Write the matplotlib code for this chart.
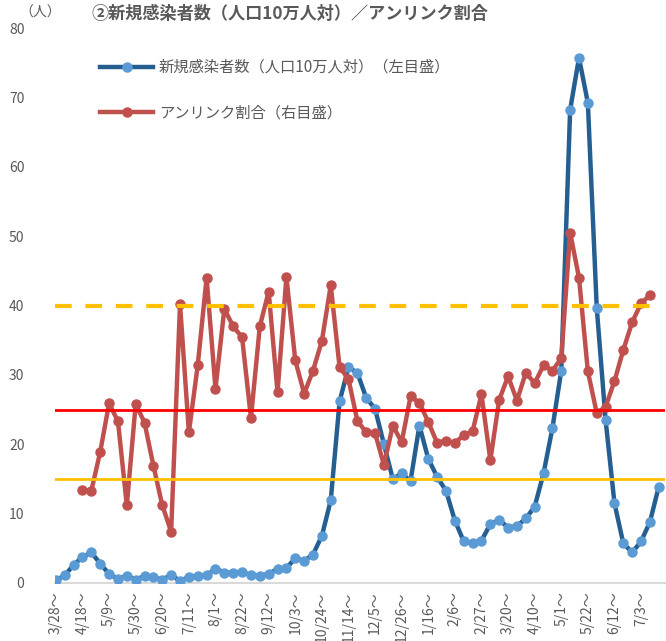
import matplotlib
matplotlib.use('Agg')
import matplotlib.pyplot as plt

plt.rcParams['font.family'] = ['Noto Sans CJK JP', 'DejaVu Sans']

# weekly values, 69 weeks starting 3/28
new_cases = [0.4, 1.1, 2.6, 3.75, 4.4, 2.8, 1.3, 0.6, 1.05, 0.5,
             1.0, 0.8, 0.5, 1.15, 0.3, 0.87, 1.05, 1.1, 2.06, 1.5,
             1.5, 1.6, 1.1, 1.05, 1.3, 2.06, 2.16, 3.56, 3.2, 4.1,
             6.8, 11.9, 26.2, 31.1, 30.3, 26.7, 25.1, 20.0, 15.0, 15.8,
             14.7, 22.7, 17.9, 15.3, 13.3, 9.0, 6.0, 5.8, 6.1, 8.5,
             9.1, 8.0, 8.2, 9.3, 11.0, 15.8, 22.3, 30.6, 68.2, 75.7,
             69.2, 39.7, 23.5, 11.5, 5.7, 4.4, 6.0, 8.8, 13.9]

# unlinked ratio (%), starts at week index 3, ends at index 67
unlinked_start = 3
unlinked = [13.4, 13.3, 18.9, 25.9, 23.3, 11.2, 25.8, 23.1, 16.9, 11.2,
            7.4, 40.2, 21.7, 31.4, 44.0, 28.0, 39.5, 37.0, 35.4, 23.8,
            37.0, 42.0, 27.5, 44.1, 32.1, 27.3, 30.6, 34.9, 42.9, 31.1,
            29.4, 23.4, 21.7, 21.6, 17.0, 22.7, 20.3, 26.9, 26.0, 23.2,
            20.2, 20.5, 20.2, 21.3, 21.9, 27.2, 17.7, 26.4, 29.8, 26.3,
            30.3, 28.8, 31.4, 30.6, 32.4, 50.5, 44.0, 30.5, 24.5, 25.4,
            29.1, 33.6, 37.6, 40.3, 41.5]

tick_labels = ['3/28～', '4/18～', '5/9～', '5/30～', '6/20～', '7/11～', '8/1～',
               '8/22～', '9/12～', '10/3～', '10/24～', '11/14～', '12/5～',
               '12/26～', '1/16～', '2/6～', '2/27～', '3/20～', '4/10～',
               '5/1～', '5/22～', '6/12～', '7/3～']

ref_dashed = 40
ref_red = 25
ref_yellow = 15

x_cases = list(range(len(new_cases)))
x_unlinked = list(range(unlinked_start, unlinked_start + len(unlinked)))

fig = plt.figure(figsize=(6.66, 6.41), dpi=100)
W, H = 666, 641
ax = fig.add_axes([55 / W, 1 - 583 / H, 610 / W, (583 - 28) / H])

ax.plot(x_cases, new_cases, color='#255E91', linewidth=3.2, marker='o',
        markersize=6.5, markerfacecolor='#5B9BD5', markeredgecolor='#5B9BD5',
        label='新規感染者数（人口10万人対）（左目盛）', zorder=3)
ax.plot(x_unlinked, unlinked, color='#C0504D', linewidth=3.2, marker='o',
        markersize=6.5, markerfacecolor='#C0504D', markeredgecolor='#C0504D',
        label='アンリンク割合（右目盛）', zorder=4)

# reference lines
ax.plot([-0.05, 67.2], [ref_dashed, ref_dashed], color='#FFC000', linewidth=3,
        linestyle=(0, (4, 3.3)), zorder=5)
ax.axhline(ref_red, color='#FF0000', linewidth=2, zorder=5)
ax.axhline(ref_yellow, color='#FFC000', linewidth=2, zorder=5)

ax.set_xlim(-0.1, 68.7)
ax.set_ylim(0, 80)
ax.set_yticks(range(0, 81, 10))
ax.set_xticks(list(range(0, 67, 3)))
ax.set_xticklabels(tick_labels, rotation=90, va='top', ha='center')
ax.tick_params(axis='both', length=0, colors='#595959', labelsize=10)
ax.tick_params(axis='y', pad=22)
ax.tick_params(axis='x', pad=6)

for s in ['top', 'right', 'left']:
    ax.spines[s].set_visible(False)
ax.spines['bottom'].set_color('#D9D9D9')
ax.spines['bottom'].set_linewidth(1.5)

leg = ax.legend(loc='upper left', bbox_to_anchor=(100 / W, 1 - 59 / H),
                bbox_transform=fig.transFigure, frameon=False, fontsize=11,
                labelspacing=1.85, handlelength=3.5, handletextpad=0.35,
                borderpad=0, borderaxespad=0)
for t in leg.get_texts():
    t.set_color('#595959')

fig.text(290 / W, 1 - 14 / H, '②新規感染者数（人口10万人対）／アンリンク割合',
         ha='center', va='center', fontsize=12.3, fontweight='bold', color='#595959')
fig.text(40 / W, 1 - 13 / H, '（人）', ha='center', va='center',
         fontsize=10, color='#595959')

fig.savefig('out.png', dpi=100)
plt.close(fig)
